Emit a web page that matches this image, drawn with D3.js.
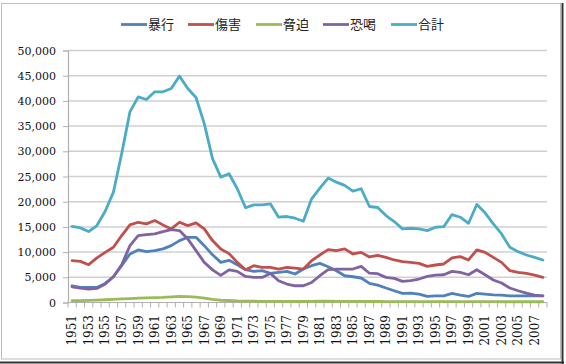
<!DOCTYPE html>
<html><head><meta charset="utf-8">
<script src="https://cdn.jsdelivr.net/npm/d3@7"></script>
<style>html,body{margin:0;padding:0;background:#fff;}svg{display:block;}</style>
</head><body>
<svg id="chart" width="566" height="364"></svg>
<script>
const years = d3.range(1951, 2009);
const seriesNames = ["暴行", "傷害", "脅迫", "恐喝", "合計"];
const seriesColors = ["#4f81bd", "#c0504d", "#9bbb59", "#8064a2", "#4bacc6"];
const assault = [3320,2990,2990,2990,3780,5110,7300,9630,10430,10090,10290,10630,11280,12280,12940,12940,11280,9460,7960,8370,7500,6510,6170,6310,5770,5970,6170,5650,6640,7300,7760,7100,6310,5310,5110,4860,3780,3460,2870,2330,1800,1870,1670,1200,1330,1330,1800,1470,1200,1800,1670,1530,1470,1330,1330,1330,1330,1330];
const injury = [8300,8160,7500,8840,9950,10950,13280,15400,15920,15600,16260,15400,14600,15920,15260,15800,14600,12280,10630,9700,7960,6510,7300,6970,6970,6640,6970,6840,6640,8300,9430,10490,10290,10630,9630,9950,9030,9360,8960,8440,8100,7960,7760,7160,7440,7640,8840,9100,8440,10430,9950,8960,7960,6310,5970,5770,5450,4980];
const intimidation = [350,380,420,480,550,620,700,780,850,900,950,1000,1100,1200,1150,1050,850,600,450,400,320,280,260,240,240,220,220,200,200,220,250,250,240,230,220,210,200,200,190,180,170,170,160,160,160,160,170,170,160,170,160,160,150,150,150,150,150,150];
const extortion = [3120,2870,2670,2790,3660,5110,7500,11280,13280,13470,13610,14070,14470,14270,12620,10290,7960,6470,5380,6480,6170,5170,4980,4980,5770,4320,3660,3320,3320,3980,5310,6510,6640,6640,6640,7160,5810,5710,4980,4780,4180,4320,4660,5170,5450,5510,6170,5970,5510,6510,5510,4460,3860,2870,2330,1870,1470,1330];
const total = [15120,14810,14070,15270,18110,21890,29540,37820,40800,40280,41800,41800,42470,44920,42470,40680,35500,28540,24880,25550,22570,18790,19380,19380,19580,16920,17060,16720,16120,20580,22690,24680,23880,23230,22090,22570,19050,18850,17250,16060,14600,14730,14600,14270,14930,15060,17450,16920,15720,19440,17790,15600,13610,10950,10090,9430,8960,8440];
const yTicks = [0,5000,10000,15000,20000,25000,30000,35000,40000,45000,50000];
const seriesValues = [assault, injury, intimidation, extortion, total];

const svg = d3.select("#chart");
const L = 68, R = 547, T = 50.5, B = 302.5;

// frame
svg.append("rect").attr("x",1.5).attr("y",3.5).attr("width",559).attr("height",355.5)
  .attr("fill","#fff").attr("stroke","#bdbdbd").attr("stroke-width",1);
svg.append("line").attr("x1",562.5).attr("x2",562.5).attr("y1",3).attr("y2",364).attr("stroke","#333").attr("stroke-width",2);
svg.append("line").attr("x1",0).attr("x2",564).attr("y1",362.5).attr("y2",362.5).attr("stroke","#333").attr("stroke-width",2);

const x = d3.scaleBand().domain(years).range([L, R]).padding(0);
const y = d3.scaleLinear().domain([0, 50000]).range([B, T]);
const cx = d => x(d) + x.bandwidth() / 2;

// gridlines
svg.append("g").selectAll("line").data(yTicks.slice(1)).join("line")
  .attr("x1", L).attr("x2", R).attr("y1", d => y(d)).attr("y2", d => y(d))
  .attr("stroke", "#d0d0d0").attr("stroke-width", 1.5);

// y axis
const yAxis = d3.axisLeft(y).tickValues(yTicks).tickSize(5).tickPadding(7)
  .tickFormat(d3.format(","));
const gy = svg.append("g").attr("transform", `translate(${L},0)`).call(yAxis);
gy.select(".domain").attr("stroke", "#b0b0b0").attr("stroke-width", 1.2);
gy.selectAll(".tick line").attr("stroke", "#b0b0b0");
gy.selectAll("text").attr("font-family", "DejaVu Serif").attr("font-size", 11).attr("fill", "#111");

// x axis line and ticks
svg.append("line").attr("x1", L).attr("x2", R).attr("y1", B).attr("y2", B)
  .attr("stroke", "#b0b0b0").attr("stroke-width", 1.2);
const bounds = years.map(d => x(d)).concat([R]);
svg.append("g").selectAll("line").data(bounds).join("line")
  .attr("x1", d => d).attr("x2", d => d).attr("y1", B).attr("y2", B + 5)
  .attr("stroke", "#b0b0b0").attr("stroke-width", 1);
svg.append("g").selectAll("text").data(years.filter((d, i) => i % 2 === 0)).join("text")
  .attr("transform", d => `translate(${cx(d)},315) rotate(-90)`)
  .attr("dy", "0.36em").attr("text-anchor", "end")
  .attr("font-family", "DejaVu Serif").attr("font-size", 12).attr("fill", "#111")
  .text(d => d);

// lines
const line = d3.line().x((d, i) => cx(years[i])).y(d => y(d));
seriesValues.forEach((vals, k) => {
  svg.append("path").datum(vals).attr("d", line).attr("fill", "none")
    .attr("stroke", seriesColors[k]).attr("stroke-width", 2.8)
    .attr("stroke-linejoin", "round").attr("stroke-linecap", "round");
});

// legend
const legendX = [121, 188, 256, 323, 391];
const lg = svg.append("g");
seriesNames.forEach((n, k) => {
  lg.append("line").attr("x1", legendX[k]).attr("x2", legendX[k] + 26)
    .attr("y1", 24.5).attr("y2", 24.5).attr("stroke", seriesColors[k]).attr("stroke-width", 2.8);
  lg.append("text").attr("x", legendX[k] + 27).attr("y", 24.5).attr("dy", "0.36em")
    .attr("font-family", "Noto Sans CJK JP").attr("font-size", 13).attr("fill", "#222")
    .text(n);
});
</script>
</body></html>
